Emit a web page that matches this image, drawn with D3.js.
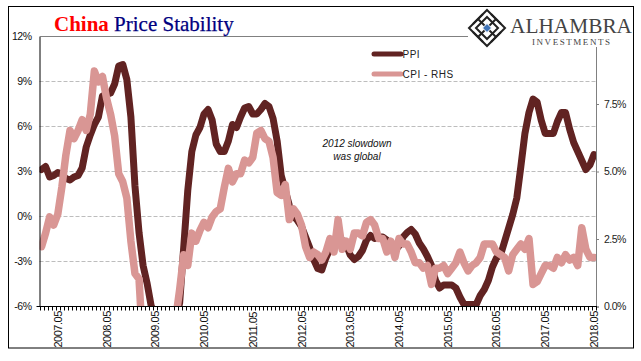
<!DOCTYPE html>
<html>
<head>
<meta charset="utf-8">
<script src="https://cdn.jsdelivr.net/npm/d3@7"></script>
<style>
  html, body { margin: 0; padding: 0; background: #fff; }
  svg { display: block; }
  text { font-family: "Liberation Sans", Arial, sans-serif; }
</style>
</head>
<body>
<svg id="chart"></svg>
<script>
// monthly values, 2007.01 to 2018.05
const years = d3.range(2007, 2019);
const months = years.flatMap(y => d3.range(1, 13).map(m => `${y}.${String(m).padStart(2, '0')}`)).slice(0, 137);

const ppi = [
  3.1, 3.3, 2.6, 2.7, 2.9, 2.8, 2.5, 2.4, 2.6, 2.7, 3.2, 4.6,
  5.4, 6.1, 6.6, 8.0, 8.1, 8.2, 8.8, 10.0, 10.1, 9.1, 6.6, 2.0,
  -1.1, -3.3, -4.5, -6.0, -6.6, -7.2, -7.8, -8.2, -7.9, -7.0, -5.8, -2.1,
  1.7, 4.3, 5.4, 5.9, 6.8, 7.1, 6.4, 4.8, 4.3, 4.3, 5.0, 6.1,
  5.9, 6.6, 7.2, 7.3, 6.8, 6.8, 7.1, 7.5, 7.3, 6.5, 5.0, 2.7,
  1.7, 0.7, 0.0, -0.3, -0.7, -1.4, -2.1, -2.9, -3.5, -3.6, -2.8, -2.2,
  -1.9, -1.6, -1.6, -1.9, -2.6, -2.9, -2.7, -2.3, -1.6, -1.3, -1.5, -1.4,
  -1.4, -1.6, -2.0, -2.3, -2.0, -1.4, -1.1, -0.9, -1.2, -1.8, -2.2, -2.7,
  -3.3, -4.3, -4.8, -4.6, -4.6, -4.6, -4.8, -5.4, -5.9, -5.9, -5.9, -5.9,
  -5.3, -4.9, -4.3, -3.4, -2.8, -2.6, -1.7, -0.8, 0.1, 1.2, 3.3, 5.5,
  6.9, 7.8, 7.6, 6.4, 5.5, 5.5, 5.5, 6.3, 6.9, 6.9, 5.8, 4.9,
  4.3, 3.7, 3.1, 3.4, 4.1
];

const cpi = [
  2.2, 2.7, 3.3, 3.0, 3.4, 4.4, 5.6, 6.5, 6.2, 6.5, 6.9, 6.5,
  7.1, 8.7, 8.3, 8.5, 7.7, 7.1, 6.3, 4.9, 4.6, 4.0, 2.4, 1.2,
  1.0, -1.6, -1.2, -1.5, -1.4, -1.7, -1.8, -1.2, -0.8, -0.5, 0.6, 1.9,
  1.5, 2.7, 2.4, 2.8, 3.1, 2.9, 3.3, 3.5, 3.6, 4.4, 5.1, 4.6,
  4.9, 4.9, 5.4, 5.3, 5.5, 6.4, 6.5, 6.2, 6.1, 5.5, 4.2, 4.1,
  4.5, 3.2, 3.6, 3.4, 3.0, 2.2, 1.8, 2.0, 1.9, 1.7, 2.0, 2.5,
  2.0, 3.2, 2.1, 2.4, 2.1, 2.7, 2.7, 2.6, 3.1, 3.2, 3.0, 2.5,
  2.5, 2.0, 2.4, 1.8, 2.5, 2.3, 2.3, 2.0, 1.6, 1.6, 1.4, 1.5,
  0.8, 1.4, 1.4, 1.5, 1.2, 1.4, 1.6, 2.0, 1.6, 1.3, 1.5, 1.6,
  1.8, 2.3, 2.3, 2.3, 2.0, 1.9, 1.8, 1.3, 1.9, 2.1, 2.3, 2.1,
  2.5, 0.8, 0.9, 1.2, 1.5, 1.5, 1.4, 1.8, 1.6, 1.9, 1.7, 1.8,
  1.5, 2.9, 2.1, 1.8, 1.8
];

const leftTicks = [-6, -3, 0, 3, 6, 9, 12];
const rightTicks = [0, 2.5, 5, 7.5];
const labelMonths = months.filter(m => m.endsWith('.05'));
const note = ['2012 slowdown', 'was global'];

const width = 641, height = 361;
const margin = { top: 36, right: 45, bottom: 55, left: 39.5 };
const plotRight = width - margin.right, plotBottom = height - margin.bottom;

const svg = d3.select('#chart').attr('width', width).attr('height', height);

// outer frame
svg.append('rect')
  .attr('x', 8.5).attr('y', 6.5).attr('width', 625).attr('height', 341.5)
  .attr('fill', '#fff').attr('stroke', '#000').attr('stroke-width', 1);

const x = d3.scalePoint().domain(months).range([margin.left, plotRight]).padding(0.5);
const xEdge = d3.scaleLinear().domain([0, months.length]).range([margin.left, plotRight]);
const yLeft = d3.scaleLinear().domain([-6, 12]).range([plotBottom, margin.top]);
const yRight = d3.scaleLinear().domain([0, 10]).range([plotBottom, margin.top]);

// gridlines
svg.append('g').selectAll('line')
  .data(leftTicks.filter(d => d > -6 && d < 12))
  .join('line')
  .attr('x1', margin.left).attr('x2', plotRight)
  .attr('y1', d => yLeft(d) + 0.5).attr('y2', d => yLeft(d) + 0.5)
  .attr('stroke', '#bdbdbd').attr('stroke-dasharray', '4 2');

svg.append('line')
  .attr('x1', margin.left).attr('x2', plotRight)
  .attr('y1', margin.top + 0.5).attr('y2', margin.top + 0.5)
  .attr('stroke', '#808080');

// series, clipped to the plot
svg.append('clipPath').attr('id', 'plot').append('rect')
  .attr('x', margin.left).attr('y', margin.top)
  .attr('width', plotRight - margin.left).attr('height', plotBottom - margin.top);

const seriesG = svg.append('g').attr('clip-path', 'url(#plot)');

const linePpi = d3.line().x((d, i) => x(months[i])).y(d => yLeft(d));
const lineCpi = d3.line().x((d, i) => x(months[i])).y(d => yRight(d));

seriesG.append('path').attr('d', linePpi(ppi))
  .attr('fill', 'none').attr('stroke', '#612322').attr('stroke-width', 7)
  .attr('stroke-linejoin', 'round').attr('stroke-linecap', 'round');
seriesG.append('path').attr('d', lineCpi(cpi))
  .attr('fill', 'none').attr('stroke', '#d99694').attr('stroke-width', 7.5)
  .attr('stroke-linejoin', 'round').attr('stroke-linecap', 'round');

// left axis
const axisLeft = svg.append('g')
  .attr('transform', `translate(${margin.left},0.5)`)
  .call(d3.axisLeft(yLeft).tickValues(leftTicks).tickSize(0).tickPadding(8).tickFormat(d => d + '%'));
axisLeft.select('.domain').attr('stroke', '#000').attr('stroke-width', 1);
axisLeft.selectAll('text')
  .style('font-size', '10.5px').style('letter-spacing', '-0.5px').attr('fill', '#111');

// right axis
const axisRight = svg.append('g')
  .attr('transform', `translate(${plotRight},0.5)`)
  .call(d3.axisRight(yRight).tickValues(rightTicks).tickSize(3).tickPadding(5).tickFormat(d => d.toFixed(1) + '%'));
axisRight.select('.domain').attr('stroke', '#808080');
axisRight.selectAll('.tick line').attr('stroke', '#808080');
axisRight.selectAll('text')
  .style('font-size', '10.5px').style('letter-spacing', '-0.5px').attr('fill', '#222');

// bottom axis: a tick at each month boundary
const axisBottom = svg.append('g').attr('transform', `translate(0,${plotBottom + 0.5})`);
axisBottom.append('line')
  .attr('x1', margin.left - 3).attr('x2', plotRight + 1)
  .attr('stroke', '#000');
axisBottom.selectAll('line.tick')
  .data(d3.range(months.length + 1))
  .join('line')
  .attr('class', 'tick')
  .attr('x1', d => Math.round(xEdge(d)) + 0.5).attr('x2', d => Math.round(xEdge(d)) + 0.5)
  .attr('y1', 0).attr('y2', 4)
  .attr('stroke', '#000');
axisBottom.selectAll('text')
  .data(labelMonths)
  .join('text')
  .attr('transform', d => `translate(${x(d) + 4},41) rotate(-90)`)
  .style('font-size', '11px').style('letter-spacing', '-0.5px')
  .attr('fill', '#111')
  .text(d => d);

// title
const title = svg.append('text')
  .attr('x', 54).attr('y', 31)
  .style('font-family', '"Liberation Serif", serif')
  .style('font-size', '21px');
title.append('tspan').attr('fill', '#ff0000').attr('font-weight', 'bold').text('China ');
title.append('tspan').attr('fill', '#00007f')
  .attr('stroke', '#00007f').attr('stroke-width', 0.25).text('Price Stability');

// legend
const legend = [
  { name: 'PPI', color: '#612322', y: 54 },
  { name: 'CPI - RHS', color: '#d99694', y: 74 }
];
const legendG = svg.append('g').selectAll('g').data(legend).join('g');
legendG.append('line')
  .attr('x1', 374).attr('x2', 401)
  .attr('y1', d => d.y).attr('y2', d => d.y)
  .attr('stroke', d => d.color).attr('stroke-width', 5).attr('stroke-linecap', 'round');
legendG.append('text')
  .attr('x', 402.5).attr('y', d => d.y + 4)
  .style('font-size', '10px').style('letter-spacing', '0.5px')
  .attr('fill', '#222')
  .text(d => d.name);

// annotation
svg.append('g').selectAll('text')
  .data(note)
  .join('text')
  .attr('x', 357).attr('y', (d, i) => 147 + i * 13)
  .attr('text-anchor', 'middle')
  .style('font-size', '10px').style('font-style', 'italic')
  .attr('fill', '#111')
  .text(d => d);

// logo: white patch, diamond lattice, wordmark
const logo = svg.append('g');
logo.append('rect').attr('x', 468).attr('y', 8).attr('width', 164).attr('height', 39).attr('fill', '#fff');

const diamond = logo.append('g').attr('transform', 'translate(487,28)')
  .attr('fill', 'none').attr('stroke', '#222');
diamond.append('path').attr('d', 'M0,-18L18,0L0,18L-18,0Z').attr('stroke-width', 2);
diamond.append('path').attr('d', 'M0,-11L11,0L0,11L-11,0Z').attr('stroke-width', 2);
diamond.append('path')
  .attr('d', 'M-9,-9L9,9M9,-9L-9,9M-14,-4L-4,-14M4,-14L14,-4M14,4L4,14M-4,14L-14,4')
  .attr('stroke-width', 2);
diamond.append('path').attr('d', 'M0,-4.5L4.5,0L0,4.5L-4.5,0Z')
  .attr('fill', '#3f74b8').attr('stroke', '#fff').attr('stroke-width', 1);

logo.append('text')
  .attr('x', 510).attr('y', 33)
  .attr('textLength', 122).attr('lengthAdjust', 'spacingAndGlyphs')
  .style('font-family', '"Liberation Serif", serif')
  .style('font-size', '21px')
  .attr('fill', '#444')
  .text('ALHAMBRA');
logo.append('text')
  .attr('x', 532).attr('y', 45)
  .attr('textLength', 78)
  .style('font-family', '"Liberation Serif", serif')
  .style('font-size', '9px')
  .attr('fill', '#444')
  .text('INVESTMENTS');
</script>
</body>
</html>
